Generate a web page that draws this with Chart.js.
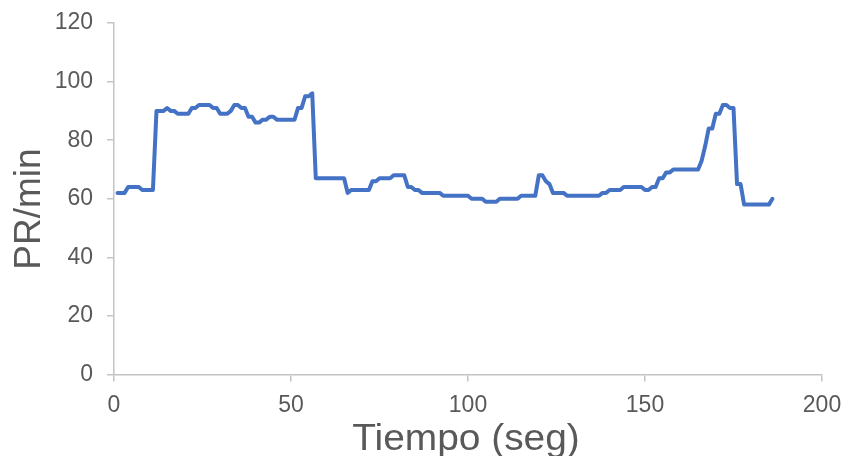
<!DOCTYPE html>
<html>
<head>
<meta charset="utf-8">
<title>PR/min vs Tiempo</title>
<script src="https://cdn.jsdelivr.net/npm/chart.js@4.4.1/dist/chart.umd.min.js"></script>
<style>
  html, body { margin: 0; padding: 0; background: #ffffff; }
  #wrap { width: 844px; height: 456px; }
  canvas { display: block; }
</style>
</head>
<body>
<div id="wrap"><canvas id="chart" width="844" height="456"></canvas></div>
<script>
// Sample times (s)
const seconds = [
  1, 2, 3, 4, 5, 6, 7, 8, 9, 10,
  11, 12, 13, 14, 15, 16, 17, 18, 19, 20,
  21, 22, 23, 24, 25, 26, 27, 28, 29, 30,
  31, 32, 33, 34, 35, 36, 37, 38, 39, 40,
  41, 42, 43, 44, 45, 46, 47, 48, 49, 50,
  51, 52, 53, 54, 55, 56, 57, 58, 59, 60,
  61, 62, 63, 64, 65, 66, 67, 68, 69, 70,
  71, 72, 73, 74, 75, 76, 77, 78, 79, 80,
  81, 82, 83, 84, 85, 86, 87, 88, 89, 90,
  91, 92, 93, 94, 95, 96, 97, 98, 99, 100,
  101, 102, 103, 104, 105, 106, 107, 108, 109, 110,
  111, 112, 113, 114, 115, 116, 117, 118, 119, 120,
  121, 122, 123, 124, 125, 126, 127, 128, 129, 130,
  131, 132, 133, 134, 135, 136, 137, 138, 139, 140,
  141, 142, 143, 144, 145, 146, 147, 148, 149, 150,
  151, 152, 153, 154, 155, 156, 157, 158, 159, 160,
  161, 162, 163, 164, 165, 166, 167, 168, 169, 170,
  171, 172, 173, 174, 175, 176, 177, 178, 179, 180,
  181, 182, 183, 184, 185, 186
];

// Pulse rate (beats/min) at each sample time
const pulseRate = [
  62, 62, 62, 64, 64, 64, 64, 63, 63, 63,
  63, 90, 90, 90, 91, 90, 90, 89, 89, 89,
  89, 91, 91, 92, 92, 92, 92, 91, 91, 89,
  89, 89, 90, 92, 92, 91, 91, 88, 88, 86,
  86, 87, 87, 88, 88, 87, 87, 87, 87, 87,
  87, 91, 91, 95, 95, 96, 67, 67, 67, 67,
  67, 67, 67, 67, 67, 62, 63, 63, 63, 63,
  63, 63, 66, 66, 67, 67, 67, 67, 68, 68,
  68, 68, 64, 64, 63, 63, 62, 62, 62, 62,
  62, 62, 61, 61, 61, 61, 61, 61, 61, 61,
  60, 60, 60, 60, 59, 59, 59, 59, 60, 60,
  60, 60, 60, 60, 61, 61, 61, 61, 61, 68,
  68, 66, 65, 62, 62, 62, 62, 61, 61, 61,
  61, 61, 61, 61, 61, 61, 61, 62, 62, 63,
  63, 63, 63, 64, 64, 64, 64, 64, 64, 63,
  63, 64, 64, 67, 67, 69, 69, 70, 70, 70,
  70, 70, 70, 70, 70, 73, 78, 84, 84, 89,
  89, 92, 92, 91, 91, 65, 65, 58, 58, 58,
  58, 58, 58, 58, 58, 60
];

// Axis ticks
const xTicks = [0, 50, 100, 150, 200];
const yTicks = [0, 20, 40, 60, 80, 100, 120];

const xTitle = 'Tiempo (seg)';
const yTitle = 'PR/min';

const AXIS_GRAY = '#C4C4C4';
const TEXT_GRAY = '#595959';
const FONT = '"Liberation Sans", Arial, sans-serif';

const points = seconds.map((t, i) => ({ x: t, y: pulseRate[i] }));

// Axis titles drawn after the chart
const axisTitles = {
  id: 'axisTitles',
  afterDraw(chart) {
    const ctx = chart.ctx;
    ctx.save();
    ctx.fillStyle = TEXT_GRAY;

    // horizontal title, slightly widened
    ctx.save();
    ctx.font = '36px ' + FONT;
    ctx.textAlign = 'center';
    ctx.textBaseline = 'alphabetic';
    ctx.translate(466, 450);
    ctx.scale(1.08, 1);
    ctx.fillText(xTitle, 0, 0);
    ctx.restore();

    // vertical title
    ctx.save();
    ctx.font = '37px ' + FONT;
    ctx.textAlign = 'center';
    ctx.textBaseline = 'alphabetic';
    ctx.translate(40, 209);
    ctx.rotate(-Math.PI / 2);
    ctx.fillText(yTitle, 0, 0);
    ctx.restore();

    ctx.restore();
  }
};

new Chart(document.getElementById('chart'), {
  type: 'line',
  data: {
    datasets: [{
      data: points,
      borderColor: '#4472C4',
      borderWidth: 4,
      borderJoinStyle: 'round',
      borderCapStyle: 'round',
      pointRadius: 0,
      fill: false,
      tension: 0
    }]
  },
  options: {
    responsive: false,
    animation: false,
    devicePixelRatio: 1,
    layout: { padding: { left: 0, right: 22, top: 23, bottom: 0 } },
    plugins: {
      legend: { display: false },
      tooltip: { enabled: false }
    },
    scales: {
      x: {
        type: 'linear',
        min: xTicks[0],
        max: xTicks[xTicks.length - 1],
        afterBuildTicks(scale) { scale.ticks = xTicks.map(v => ({ value: v })); },
        afterFit(scale) {
          scale.height = 81.5;
          scale.paddingLeft = 0;
          scale.paddingRight = 0;
        },
        ticks: {
          color: TEXT_GRAY,
          font: { family: FONT, size: 23 },
          padding: 10,
          maxRotation: 0
        },
        grid: {
          drawOnChartArea: false,
          drawTicks: true,
          tickLength: 7,
          color: AXIS_GRAY,
          lineWidth: 1.5
        },
        border: { display: true, color: AXIS_GRAY, width: 1.5 }
      },
      y: {
        min: yTicks[0],
        max: yTicks[yTicks.length - 1],
        afterBuildTicks(scale) { scale.ticks = yTicks.map(v => ({ value: v })); },
        afterFit(scale) {
          scale.width = 114;
          scale.paddingTop = 0;
          scale.paddingBottom = 0;
        },
        ticks: {
          color: TEXT_GRAY,
          font: { family: FONT, size: 23 },
          padding: 14
        },
        grid: {
          drawOnChartArea: false,
          drawTicks: true,
          tickLength: 7,
          color: AXIS_GRAY,
          lineWidth: 1.5
        },
        border: { display: true, color: AXIS_GRAY, width: 1.5 }
      }
    }
  },
  plugins: [axisTitles]
});
</script>
</body>
</html>
